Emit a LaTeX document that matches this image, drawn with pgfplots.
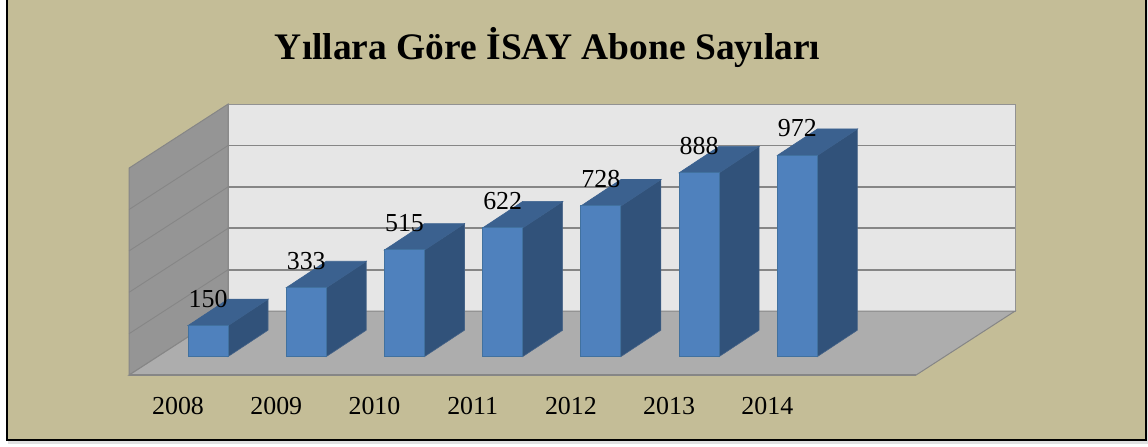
\documentclass[border=0pt]{standalone}
\usepackage{fontspec}
\setmainfont{Liberation Serif}
\usepackage{pgfplots}
\pgfplotsset{compat=1.18}
\usepackage{pgfplotstable}
\definecolor{bgtan}{HTML}{C4BD97}
\definecolor{wallback}{HTML}{E6E6E6}
\definecolor{wallleft}{HTML}{959595}
\definecolor{floorc}{HTML}{ADADAD}
\definecolor{gridc}{HTML}{868686}
\definecolor{front}{HTML}{4F81BD}
\definecolor{frontb}{HTML}{41719F}
\definecolor{sidec}{HTML}{31527A}
\definecolor{topc}{HTML}{3B618F}
\pgfplotstableread{
i v
0 150
1 333
2 515
3 622
4 728
5 888
6 972
}\abone
\newcommand{\barfaces}[2]{%
  \pgfmathsetmacro{\xa}{#1-0.2036}%
  \pgfmathsetmacro{\xb}{#1+0.2036}%
  \pgfmathsetmacro{\xc}{#1+0.6108}%
  \pgfmathsetmacro{\yt}{#2+127.5}%
  \addplot[fill=sidec,draw=sidec!90!white,line width=0.6pt] coordinates {(\xb,0) (\xc,127.5) (\xc,\yt) (\xb,#2)} --cycle;
  \addplot[fill=topc,draw=topc,line width=0.6pt] coordinates {(\xa,#2) (\xb,#2) (\xc,\yt) (\xb,\yt)} --cycle;
}
\begin{document}
\begin{tikzpicture}
\begin{axis}[
  scale only axis, width=1148bp, height=446bp,
  xmin=-2.118, xmax=9.570, ymin=-432.4, ymax=1722.2,
  axis line style={draw=none},
  axis background/.style={fill=white},
  axis on top,
  major tick length=0pt,
  ytick=\empty,
  xtick={0,1,2,3,4,5,6},
  xticklabels={2008,2009,2010,2011,2012,2013,2014},
  xticklabel style={anchor=center,yshift=40bp,xshift=-30bp,font=\fontsize{26}{30}\selectfont},
  title={Yıllara Göre İSAY Abone Sayıları},
  title style={at={(axis description cs:0.477,0.881)},anchor=center,font=\fontsize{37.6}{42}\selectfont\bfseries},
  /pgf/number format/assume math mode=true,
]
% shadow and frame
\addplot[fill=black!12,draw=none] coordinates {(-2.04,1730) (9.62,1730) (9.62,-424) (-2.04,-424)} --cycle;
\addplot[fill=bgtan,draw=black,line width=2bp] coordinates {(-2.046,1760) (9.550,1760) (9.550,-403.4) (-2.046,-403.4)} --cycle;
% walls and floor
\addplot[fill=wallback,draw=gridc!90!white,line width=1bp] coordinates {(0.204,219.8) (8.216,219.8) (8.216,1219.8) (0.204,1219.8)} --cycle;
\addplot[fill=wallleft,draw=gridc,line width=1bp] coordinates {(-0.804,-89.4) (0.204,219.8) (0.204,1219.8) (-0.804,910.6)} --cycle;
\addplot[fill=floorc,draw=gridc,line width=1bp] coordinates {(-0.804,-89.4) (0.204,219.8) (8.216,219.8) (7.208,-89.4)} --cycle;
\addplot[draw=gridc,line width=2bp] coordinates {(-0.804,-89.4) (7.208,-89.4)};
% grid lines
\addplot[draw=gridc,line width=1.8bp] coordinates {(0.204,419.8) (8.216,419.8)};
\addplot[draw=gridc,line width=1.8bp] coordinates {(0.204,619.8) (8.216,619.8)};
\addplot[draw=gridc,line width=1.8bp] coordinates {(0.204,819.8) (8.216,819.8)};
\addplot[draw=gridc,line width=1.8bp] coordinates {(0.204,1019.8) (8.216,1019.8)};
\addplot[draw=gridc,line width=0.9bp] coordinates {(-0.804,110.6) (0.204,419.8)};
\addplot[draw=gridc,line width=0.9bp] coordinates {(-0.804,310.6) (0.204,619.8)};
\addplot[draw=gridc,line width=0.9bp] coordinates {(-0.804,510.6) (0.204,819.8)};
\addplot[draw=gridc,line width=0.9bp] coordinates {(-0.804,710.6) (0.204,1019.8)};
% bars
\barfaces{0}{150}
\barfaces{1}{333}
\barfaces{2}{515}
\barfaces{3}{622}
\barfaces{4}{728}
\barfaces{5}{888}
\barfaces{6}{972}
\addplot[ybar,bar shift=0pt,bar width=0.4072,fill=front,draw=frontb,line width=1bp] table[x=i,y=v] {\abone};
% value labels
\addplot[draw=none,mark=none,nodes near coords,point meta=y,
  every node near coord/.append style={anchor=center,yshift=27bp,font=\fontsize{26}{30}\selectfont,text=black}]
  table[x=i,y=v] {\abone};
\end{axis}
\end{tikzpicture}
\end{document}
